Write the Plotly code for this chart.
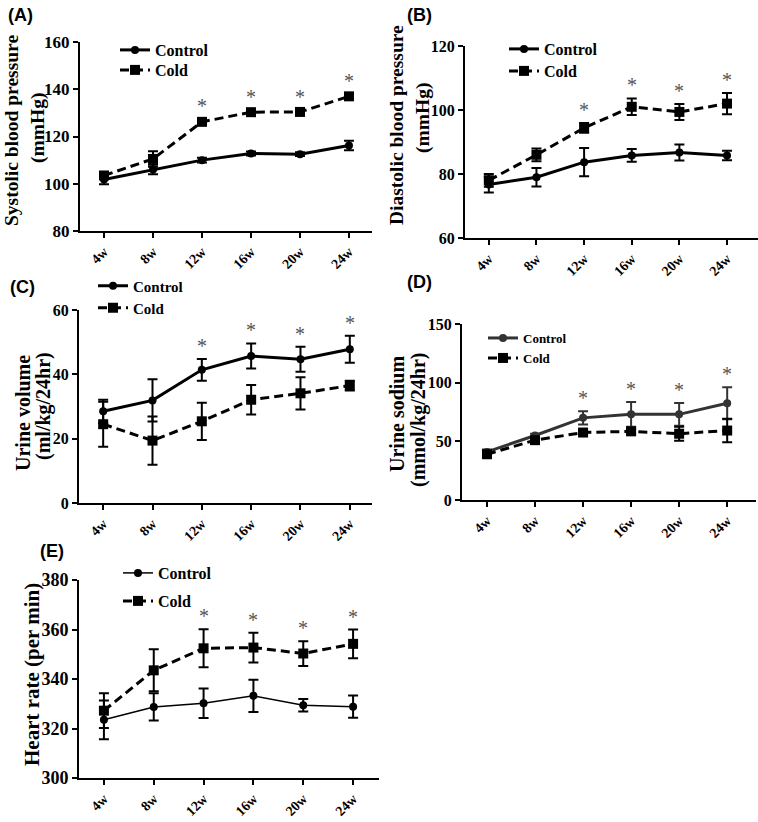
import plotly.graph_objects as go

weeks = ["4w", "8w", "12w", "16w", "20w", "24w"]

# (A) systolic blood pressure, mmHg
sbp_ctrl = [101.8, 106, 110, 112.8, 112.5, 116.2]
sbp_ctrl_err = [2, 2, 1, 0.8, 0.8, 2]
sbp_cold = [103.5, 110.5, 126.2, 130.3, 130.4, 137]
sbp_cold_err = [1.5, 3.3, 1, 0.8, 0.8, 1]

# (B) diastolic blood pressure, mmHg
dbp_ctrl = [76.7, 79, 83.7, 85.8, 86.7, 85.8]
dbp_ctrl_err = [2.5, 2.9, 4.4, 2, 2.5, 1.5]
dbp_cold = [78, 86, 94.4, 101, 99.4, 102]
dbp_cold_err = [2, 2, 1.5, 2.6, 2.5, 3.3]

# (C) urine volume, ml/kg/24hr
uv_ctrl = [28.5, 31.9, 41.4, 45.7, 44.7, 47.8]
uv_ctrl_err = [3.6, 6.6, 3.4, 3.9, 3.9, 4.2]
uv_cold = [24.5, 19.4, 25.4, 32.1, 34.1, 36.5]
uv_cold_err = [7, 7.5, 5.8, 4.6, 5, 1.5]

# (D) urine sodium, mmol/kg/24hr
una_ctrl = [41, 55, 70, 73, 73, 82.5]
una_ctrl_err = [2, 1.5, 5.7, 10.5, 9.7, 13.7]
una_cold = [39, 51, 57.5, 58.5, 56.5, 59.2]
una_cold_err = [2, 1.5, 1.5, 2, 6, 10]

# (E) heart rate, per min
hr_ctrl = [323.5, 328.7, 330.2, 333.2, 329.4, 328.8]
hr_ctrl_err = [7.8, 5.5, 6, 6.5, 2.5, 4.5]
hr_cold = [327.2, 343.5, 352.4, 352.7, 350.3, 354.2]
hr_cold_err = [7, 8.5, 7.7, 6, 5, 5.8]

# weeks marked significant (*)
sig_weeks = ["12w", "16w", "20w", "24w"]

W, H = 758, 822
SERIF = "Liberation Serif"


def px(x):
    return x / W


def py(y):
    return 1 - y / H


# titles: list of (text, x centre px, y centre px)
panels = [
    dict(k="", ctrl=sbp_ctrl, ce=sbp_ctrl_err, cold=sbp_cold, de=sbp_cold_err,
         yr=[80, 160], dt=20, xr=[-0.49, 5.47], dom=(80, 372, 42, 231),
         cc="black", cw=3, lab="(A)", labxy=(6, 15), leg=(115, 50, 70), lfs=16, yfs=17,
         titles=[("Systolic blood pressure", 12, 131), ("(mmHg)", 38, 128)], tfs=19.5),
    dict(k="2", ctrl=dbp_ctrl, ce=dbp_ctrl_err, cold=dbp_cold, de=dbp_cold_err,
         yr=[60, 120], dt=20, xr=[-0.5, 5.65], dom=(465, 758, 46, 238),
         cc="black", cw=3, lab="(B)", labxy=(405, 15), leg=(504, 49, 71), lfs=16, yfs=16,
         titles=[("Diastolic blood pressure", 397, 125), ("(mmHg)", 423, 118)], tfs=19.5),
    dict(k="3", ctrl=uv_ctrl, ce=uv_ctrl_err, cold=uv_cold, de=uv_cold_err,
         yr=[0, 60], dt=20, xr=[-0.49, 5.45], dom=(79, 372, 310, 503),
         cc="black", cw=3, lab="(C)", labxy=(8, 287), leg=(93, 286, 308), lfs=15, yfs=16,
         titles=[("Urine volume", 23, 413), ("(ml/kg/24hr)", 44, 406)], tfs=20),
    dict(k="4", ctrl=una_ctrl, ce=una_ctrl_err, cold=una_cold, de=una_cold_err,
         yr=[0, 150], dt=50, xr=[-0.52, 5.6], dom=(462, 756, 324, 500),
         cc="#333333", cw=3, lab="(D)", labxy=(405, 282), leg=(483, 338, 358), lfs=13, yfs=16,
         titles=[("Urine sodium", 397, 414), ("(mmol/kg/24hr)", 418, 420)], tfs=20),
    dict(k="5", ctrl=hr_ctrl, ce=hr_ctrl_err, cold=hr_cold, de=hr_cold_err,
         yr=[300, 380], dt=20, xr=[-0.5, 5.52], dom=(79, 379, 580, 778),
         cc="black", cw=1.5, lab="(E)", labxy=(38, 551), leg=(118, 573, 601), lfs=16, yfs=18,
         titles=[("Heart rate (per min)", 32, 675)], tfs=21),
]

fig = go.Figure()
annotations = []
layout = {}
n_leg = 0


def legend_id():
    global n_leg
    n_leg += 1
    return "legend" if n_leg == 1 else "legend%d" % n_leg


for p in panels:
    k = p["k"]
    xa, ya = "x" + k, "y" + k
    lx, ly_ctrl, ly_cold = p["leg"]
    lg1, lg2 = legend_id(), legend_id()
    fig.add_trace(go.Scatter(
        x=weeks, y=p["ctrl"], xaxis=xa, yaxis=ya, name="Control", legend=lg1,
        mode="lines+markers",
        line=dict(color=p["cc"], width=p["cw"]),
        marker=dict(symbol="circle", size=8, color=p["cc"]),
        error_y=dict(type="data", array=p["ce"], color=p["cc"], thickness=2, width=5),
    ))
    fig.add_trace(go.Scatter(
        x=weeks, y=p["cold"], xaxis=xa, yaxis=ya, name="Cold", legend=lg2,
        mode="lines+markers",
        line=dict(color="black", width=3, dash="9px,5px"),
        marker=dict(symbol="square", size=10, color="black"),
        error_y=dict(type="data", array=p["de"], color="black", thickness=2, width=5),
    ))
    for lg, ly in [(lg1, ly_ctrl), (lg2, ly_cold)]:
        layout[lg] = dict(
            x=px(lx), y=py(ly), xanchor="left", yanchor="middle", xref="paper", yref="paper",
            bgcolor="rgba(0,0,0,0)", borderwidth=0, itemwidth=30, tracegroupgap=0,
            font=dict(family=SERIF, size=p["lfs"], color="black", weight="bold"),
        )

    x0, x1, yt, yb = p["dom"]
    layout["xaxis" + k] = dict(
        domain=[px(x0), px(x1)], anchor=ya, type="category", range=p["xr"],
        showline=True, linecolor="black", linewidth=2, ticks="outside",
        ticklen=5, tickwidth=2, tickcolor="black", tickangle=-45,
        tickfont=dict(family=SERIF, size=14, color="black", weight="bold"),
        showgrid=False, zeroline=False, automargin=False,
    )
    layout["yaxis" + k] = dict(
        domain=[py(yb), py(yt)], anchor=xa, range=p["yr"], dtick=p["dt"],
        showline=True, linecolor="black", linewidth=2, ticks="outside",
        ticklen=5, tickwidth=2, tickcolor="black",
        tickfont=dict(family=SERIF, size=p["yfs"], color="black", weight="bold"),
        showgrid=False, zeroline=False, automargin=False,
    )

    # panel label
    annotations.append(dict(
        text=p["lab"], x=px(p["labxy"][0]), y=py(p["labxy"][1]), xref="paper", yref="paper",
        xanchor="left", yanchor="middle", showarrow=False,
        font=dict(family="Liberation Sans", size=18, color="black", weight="bold"),
    ))
    # y-axis title, one annotation per line
    for txt, tx, ty in p["titles"]:
        annotations.append(dict(
            text=txt, x=px(tx), y=py(ty), xref="paper", yref="paper",
            xanchor="center", yanchor="middle", textangle=-90, showarrow=False,
            font=dict(family=SERIF, size=p["tfs"], color="black", weight="bold"),
        ))
    # significance stars above the highest error bar
    for i, w in enumerate(weeks):
        if w in sig_weeks:
            top = max(p["ctrl"][i] + p["ce"][i], p["cold"][i] + p["de"][i])
            annotations.append(dict(
                text="*", x=w, y=top, xref=xa, yref=ya, xanchor="center",
                yanchor="bottom", yshift=0, showarrow=False,
                font=dict(family=SERIF, size=20, color="#555555"),
            ))

fig.update_layout(
    template="none",
    width=W, height=H, margin=dict(l=0, r=0, t=0, b=0, autoexpand=False),
    font=dict(family=SERIF, color="black"),
    paper_bgcolor="white", plot_bgcolor="white",
    showlegend=True, annotations=annotations, **layout,
)

fig.write_html("out.html", config={"displayModeBar": False},
               post_script="document.body.style.margin='0';")
